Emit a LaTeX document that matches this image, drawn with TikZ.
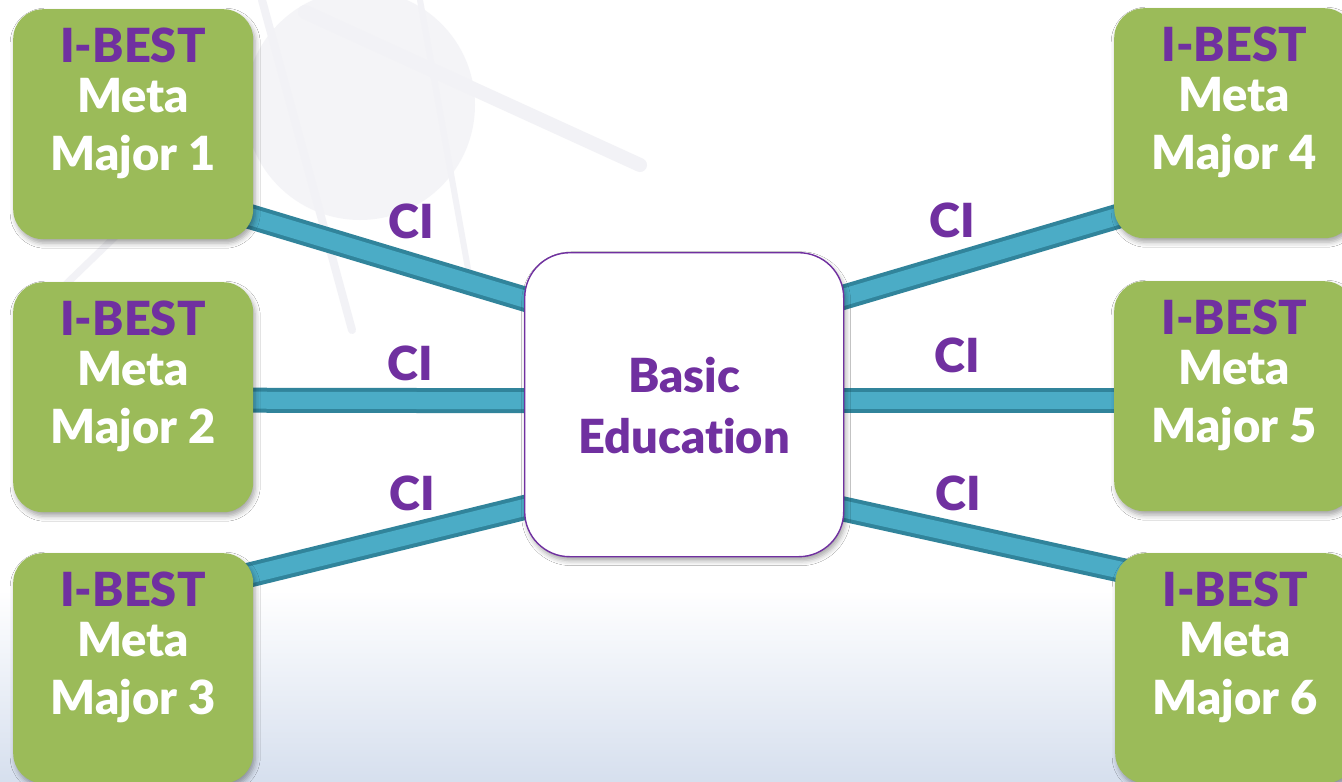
\documentclass[tikz,border=0pt]{standalone}
\usepackage{fontspec}
\setmainfont{Lato}[BoldFont={Lato Black}, Ligatures=NoCommon]
\usetikzlibrary{calc,shadows.blur}
\definecolor{mgreen}{HTML}{9BBB59}
\definecolor{mpurple}{HTML}{7030A0}
\definecolor{barlight}{HTML}{4BACC6}
\definecolor{bardark}{HTML}{31849B}
\definecolor{bgfaint}{HTML}{F2F2F6}
\definecolor{bgblue}{HTML}{D6DFEE}
\pgfdeclarelayer{bg}
\pgfsetlayers{bg,main}
\begin{document}
\begin{tikzpicture}[x=1pt,y=-1pt,
  majorbox/.style={draw=none, fill=mgreen, rounded corners=30pt,
    minimum width=240pt, minimum height=230pt, inner sep=0pt, anchor=north west,
    blur shadow={shadow xshift=2pt, shadow yshift=-4pt, shadow blur radius=5pt, shadow opacity=35}},
  centerbox/.style={draw=mpurple, line width=1.4pt, fill=white, rounded corners=45pt,
    minimum width=319pt, minimum height=304pt, inner sep=0pt, anchor=north west,
    blur shadow={shadow xshift=2pt, shadow yshift=-4pt, shadow blur radius=5pt, shadow opacity=35}},
  bigtxt/.style={anchor=base, inner sep=0pt, font=\fontsize{47}{50}\selectfont\bfseries},
  ibest/.style={bigtxt, text=mpurple},
  wtxt/.style={bigtxt, text=white},
  citxt/.style={bigtxt, text=mpurple},
  bar/.style={line width=4pt, draw=bardark, double=barlight, double distance=17pt}
]
\useasboundingbox (0,0) rectangle (1342,782);

% boxes
\node[majorbox] (m1) at (13,9) {};
\node[majorbox] (m2) at (13,282) {};
\node[majorbox] (m3) at (13,553) {};
\node[majorbox] (m4) at (1114,8) {};
\node[majorbox] (m5) at (1114,281) {};
\node[majorbox] (m6) at (1115,553) {};
\node[centerbox] (ctr) at (524,252) {};

% box texts
\foreach \n/\x/\y/\k in {1/133/9/1, 2/133/282/2, 3/133/553/3, 4/1234/8/4, 5/1234/281/5, 6/1235/553/6}{
  \node[ibest] (ib\n) at (\x,\y+53) {I-BEST};
  \node[wtxt] (me\n) at (\x,\y+103) {Meta};
  \node[wtxt] (mj\n) at (\x,\y+161) {Major \k};
}
\node[bigtxt, text=mpurple] (basic) at (684,392) {Basic};
\node[bigtxt, text=mpurple] (educ) at (684,453) {Education};

% CI labels
\node[citxt] (ci1) at (411,238) {CI};
\node[citxt] (ci2) at (410,380) {CI};
\node[citxt] (ci3) at (412,510) {CI};
\node[citxt] (ci4) at (952,237) {CI};
\node[citxt] (ci5) at (957,372) {CI};
\node[citxt] (ci6) at (958,510) {CI};

\begin{pgfonlayer}{bg}
\fill[white] (0,0) rectangle (1342,782);
\shade[top color=white, bottom color=bgblue] (0,590) rectangle (1342,782);
\begin{scope}[bgfaint, line cap=round]
  \fill[opacity=0.8] (360,105) circle (115);
  \draw[line width=14pt] (305,12) -- (640,165);
  \draw[line width=8pt] (262,0) -- (352,330);
  \draw[line width=6pt] (420,0) -- (470,280);
  \draw[line width=7pt] (60,290) -- (120,232);
\end{scope}
\draw[bar] ($(m1.east)+(-13,89.5)$) -- ($(ctr.west)+(16,-101)$);
\draw[bar] ($(m2.east)+(-13,3)$) -- ($(ctr.west)+(16,-4)$);
\draw[bar] ($(m3.east)+(-13,-91)$) -- ($(ctr.west)+(16,99)$);
\draw[bar] ($(ctr.east)+(-16,-103)$) -- ($(m4.west)+(16,89.5)$);
\draw[bar] ($(ctr.east)+(-16,-4)$) -- ($(m5.west)+(16,4.5)$);
\draw[bar] ($(ctr.east)+(-16,101)$) -- ($(m6.west)+(15,-96)$);
\end{pgfonlayer}
\end{tikzpicture}
\end{document}
